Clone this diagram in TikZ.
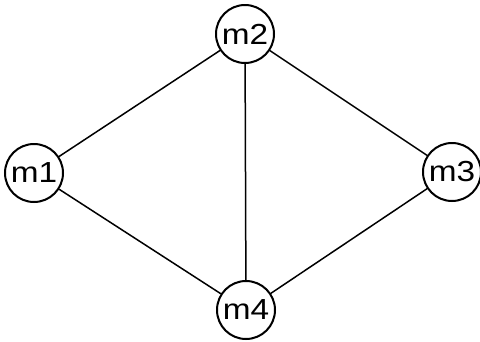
\documentclass[tikz,border=0pt]{standalone}
\usepackage{fontspec}
\setmainfont{Liberation Sans}
\begin{document}
\begin{tikzpicture}[x=1pt,y=-1pt,
  vert/.style={circle,draw,line width=2pt,minimum size=58pt,inner sep=0pt,
    font=\fontsize{29}{29}\selectfont},
  edge/.style={line width=1.5pt}]
\useasboundingbox (0,0) rectangle (480,341);
\node[vert] (m1) at (34,173) {\scalebox{1.15}[1]{m1}};
\node[vert] (m2) at (245,34) {\scalebox{1.15}[1]{m2}};
\node[vert] (m3) at (452,172) {\scalebox{1.15}[1]{m3}};
\node[vert] (m4) at (246,310) {\scalebox{1.15}[1]{m4}};
\draw[edge] (m1) -- (m2);
\draw[edge] (m2) -- (m3);
\draw[edge] (m2) -- (m4);
\draw[edge] (m1) -- (m4);
\draw[edge] (m3) -- (m4);
\end{tikzpicture}
\end{document}
